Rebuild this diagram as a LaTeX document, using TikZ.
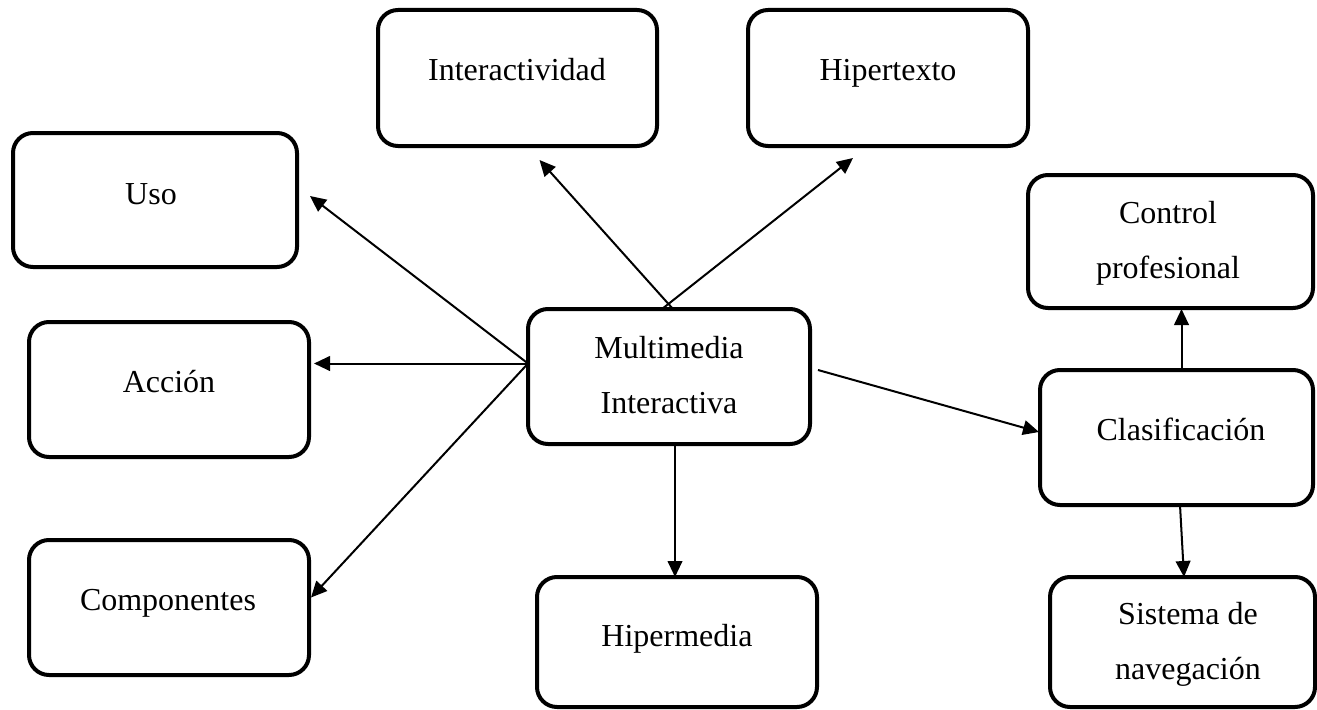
\documentclass[tikz,border=0pt]{standalone}
\usepackage{fontspec}
\setmainfont{Liberation Serif}
\usetikzlibrary{arrows.meta,calc}
\begin{document}
\begin{tikzpicture}[x=0.75pt,y=-0.75pt,
  box/.style={draw,line width=3pt,rounded corners=15pt,inner sep=0pt,outer sep=0pt,fill=white},
  lbl/.style={anchor=base,inner sep=0pt,align=center,font=\fontsize{24}{41.25}\selectfont},
  arr/.style={line width=1.5pt,-{Triangle[length=12pt,width=11pt]}}]
\useasboundingbox (0,0) rectangle (1317,710);
\fill[white] (0,0) rectangle (1317,710);

% boxes
\node[box,minimum width=209.25pt,minimum height=102pt]   (inter)  at (517.5,78)   {};
\node[box,minimum width=210pt,minimum height=102pt]      (hiper)  at (888,78)     {};
\node[box,minimum width=213pt,minimum height=100.5pt]    (uso)    at (155,200)    {};
\node[box,minimum width=210pt,minimum height=101.25pt]   (accion) at (169,389.5)  {};
\node[box,minimum width=210pt,minimum height=101.25pt]   (comp)   at (169,607.5)  {};
\node[box,minimum width=211.5pt,minimum height=101.25pt] (multi)  at (669,376.5)  {};
\node[box,minimum width=210pt,minimum height=97.5pt]     (hipm)   at (677,642)    {};
\node[box,minimum width=204.75pt,minimum height=101.25pt](clas)   at (1176.5,437.5) {};
\node[box,minimum width=213.75pt,minimum height=99.75pt] (ctrl)   at (1170.5,241.5) {};
\node[box,minimum width=198.75pt,minimum height=97.5pt]  (sist)   at (1182.5,642) {};

% texts (two-line labels are anchored at the baseline of their last line)
\node[lbl] (inter-t)  at (517,81)   {Interactividad};
\node[lbl] (hiper-t)  at (888,81)   {Hipertexto};
\node[lbl] (uso-t)    at (151,204)  {Uso};
\node[lbl] (accion-t) at (169,392)  {Acción};
\node[lbl] (comp-t)   at (168,610)  {Componentes};
\node[lbl] (multi-t)  at (669,413)  {Multimedia\\Interactiva};
\node[lbl] (hipm-t)   at (677,646)  {Hipermedia};
\node[lbl] (clas-t)   at (1181,440) {Clasificación};
\node[lbl] (ctrl-t)   at (1168,278) {Control\\profesional};
\node[lbl] (sist-t)   at (1188,679) {Sistema de\\navegación};

% connectors
\coordinate (hub) at ($(multi.west)+(0,-13)$);
\draw[arr] ($(multi.north)+(4,0)$)  -- ($(inter.south)+(22,14)$);
\draw[arr] ($(multi.north)+(-7,0)$) -- ($(hiper.south)+(-35,12)$);
\draw[arr] (hub) -- ($(uso.east)+(13,-4)$);
\draw[arr] (hub) -- ($(accion.east)+(5,-26)$);
\draw[arr] (hub) -- ($(comp.east)+(2,-10)$);
\draw[arr] ($(multi.south)+(6,0)$) -- ($(hipm.north)+(-2,0)$);
\draw[arr] ($(multi.east)+(8,-6.5)$) -- ($(clas.west)+(-1,-5.5)$);
\draw[arr] ($(clas.north)+(5,0)$) -- ($(ctrl.south)+(11,1)$);
\draw[arr] ($(clas.south)+(3.5,0)$) -- ($(sist.north)+(1.5,0)$);
\end{tikzpicture}
\end{document}
